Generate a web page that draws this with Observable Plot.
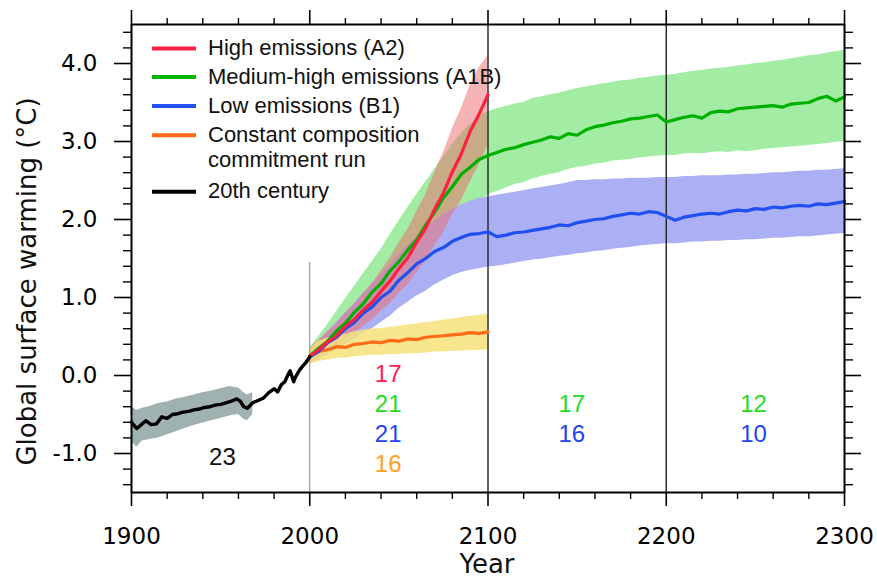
<!DOCTYPE html>
<html><head><meta charset="utf-8">
<script src="https://cdn.jsdelivr.net/npm/d3@7"></script>
<script src="https://cdn.jsdelivr.net/npm/@observablehq/plot@0.6"></script>
<style>
html,body{margin:0;padding:0;background:#fff;}
#wrap{position:relative;width:877px;height:580px;overflow:hidden;background:#fff;}
#overlay{position:absolute;left:0;top:0;pointer-events:none;}
</style></head><body><div id="wrap"></div>
<script>
// ---------- data ----------
const xMajorTicks = [1900, 2000, 2100, 2200, 2300];
const xMinorTicks = [1920,1940,1960,1980,2020,2040,2060,2080,2120,2140,2160,2180,2220,2240,2260,2280];
const yMajorTicks = [-1, 0, 1, 2, 3, 4];
const yMinorTicks = [-1.4,-1.2,-0.8,-0.6,-0.4,-0.2,0.2,0.4,0.6,0.8,1.2,1.4,1.6,1.8,2.2,2.4,2.6,2.8,3.2,3.4,3.6,3.8,4.2,4.4];

const histYears = [1900,1903,1906,1908,1911,1914,1917,1920,1923,1926,1929,1932,1935,1938,1941,1944,1947,1950,1953,1956,1959,1961,1963,1965,1968,1971,1974,1977,1980,1982,1984,1986,1988,1989,1991,1992,1994,1996,1998,2000];
const histMean = [-0.60,-0.68,-0.62,-0.58,-0.63,-0.62,-0.53,-0.55,-0.50,-0.49,-0.47,-0.46,-0.44,-0.43,-0.41,-0.40,-0.38,-0.37,-0.35,-0.33,-0.30,-0.33,-0.40,-0.42,-0.35,-0.32,-0.29,-0.22,-0.17,-0.21,-0.12,-0.08,0.02,0.06,-0.08,-0.02,0.06,0.12,0.17,0.24];
const histBandYears = [1900,1903,1906,1910,1915,1920,1925,1930,1935,1940,1945,1950,1955,1960,1963,1965,1968];
const histLow  = [-0.85,-0.92,-0.84,-0.82,-0.80,-0.76,-0.72,-0.68,-0.64,-0.61,-0.58,-0.55,-0.52,-0.50,-0.56,-0.58,-0.50];
const histHigh = [-0.40,-0.45,-0.42,-0.40,-0.36,-0.34,-0.30,-0.28,-0.25,-0.22,-0.20,-0.17,-0.14,-0.16,-0.22,-0.25,-0.22];

const projYears = [2000,2005,2010,2015,2020,2025,2030,2035,2040,2045,2050,2055,2060,2065,2070,2075,2080,2085,2090,2095,2100,
  2105,2110,2115,2120,2125,2130,2135,2140,2145,2150,2155,2160,2165,2170,2175,2180,2185,2190,2195,2200,
  2205,2210,2215,2220,2225,2230,2235,2240,2245,2250,2255,2260,2265,2270,2275,2280,2285,2290,2295,2300];

// Medium-high emissions (A1B)
const a1bMean = [0.25,0.35,0.44,0.57,0.67,0.81,0.92,1.07,1.18,1.34,1.46,1.61,1.74,1.93,2.09,2.28,2.42,2.58,2.67,2.77,2.82,
  2.86,2.90,2.92,2.96,2.99,3.02,3.06,3.04,3.10,3.08,3.15,3.19,3.21,3.24,3.26,3.29,3.30,3.32,3.34,3.25,
  3.28,3.31,3.33,3.30,3.37,3.39,3.38,3.42,3.43,3.44,3.45,3.46,3.44,3.48,3.49,3.50,3.55,3.58,3.52,3.57];
const a1bLow = [0.15,0.22,0.30,0.36,0.45,0.55,0.62,0.72,0.82,0.92,1.02,1.14,1.25,1.38,1.52,1.66,1.80,1.95,2.08,2.20,2.32,
  2.36,2.40,2.45,2.47,2.52,2.55,2.58,2.60,2.64,2.67,2.68,2.71,2.72,2.75,2.76,2.77,2.79,2.80,2.81,2.82,
  2.82,2.84,2.85,2.84,2.86,2.87,2.86,2.88,2.87,2.88,2.90,2.91,2.92,2.93,2.94,2.95,2.96,2.97,2.99,3.00];
const a1bHigh = [0.35,0.50,0.65,0.82,0.98,1.14,1.30,1.46,1.62,1.80,1.98,2.15,2.32,2.48,2.64,2.80,2.96,3.10,3.22,3.32,3.38,
  3.42,3.45,3.48,3.50,3.55,3.57,3.60,3.62,3.65,3.68,3.70,3.72,3.74,3.76,3.78,3.79,3.81,3.82,3.84,3.85,
  3.86,3.88,3.90,3.91,3.93,3.94,3.95,3.97,3.98,4.00,4.01,4.03,4.04,4.06,4.08,4.10,4.11,4.13,4.15,4.17];

// Low emissions (B1)
const b1Mean = [0.24,0.31,0.42,0.49,0.60,0.68,0.80,0.88,1.00,1.08,1.22,1.32,1.43,1.50,1.59,1.64,1.72,1.77,1.81,1.82,1.84,
  1.78,1.80,1.83,1.84,1.86,1.88,1.90,1.93,1.92,1.96,1.98,2.00,2.01,2.04,2.06,2.08,2.07,2.10,2.09,2.04,
  1.99,2.03,2.05,2.07,2.08,2.07,2.10,2.12,2.11,2.14,2.13,2.16,2.15,2.17,2.18,2.17,2.20,2.19,2.21,2.23];
const b1Low = [0.15,0.20,0.27,0.32,0.40,0.46,0.54,0.60,0.68,0.76,0.86,0.94,1.02,1.08,1.16,1.22,1.28,1.32,1.35,1.37,1.39,
  1.40,1.42,1.44,1.46,1.48,1.49,1.51,1.53,1.54,1.56,1.57,1.59,1.60,1.62,1.63,1.64,1.66,1.67,1.68,1.69,
  1.69,1.70,1.71,1.71,1.72,1.72,1.73,1.73,1.74,1.74,1.75,1.76,1.76,1.77,1.78,1.78,1.79,1.80,1.81,1.82];
const b1High = [0.33,0.44,0.56,0.68,0.80,0.92,1.05,1.17,1.30,1.42,1.55,1.67,1.78,1.88,1.98,2.06,2.13,2.19,2.23,2.27,2.29,
  2.31,2.33,2.35,2.37,2.39,2.41,2.43,2.45,2.47,2.50,2.50,2.51,2.51,2.52,2.52,2.53,2.53,2.53,2.54,2.54,
  2.54,2.55,2.55,2.56,2.56,2.56,2.57,2.57,2.58,2.58,2.59,2.60,2.60,2.61,2.62,2.62,2.63,2.63,2.64,2.65];

// High emissions (A2), 2000-2100
const a2Mean = [0.25,0.33,0.43,0.51,0.63,0.72,0.84,0.94,1.08,1.21,1.37,1.51,1.71,1.89,2.13,2.34,2.61,2.84,3.13,3.35,3.60];
const a2Low  = [0.15,0.22,0.30,0.37,0.46,0.54,0.63,0.71,0.82,0.92,1.05,1.16,1.32,1.46,1.66,1.83,2.06,2.24,2.48,2.70,2.95];
const a2High = [0.35,0.45,0.56,0.66,0.80,0.91,1.05,1.18,1.34,1.50,1.70,1.87,2.10,2.32,2.60,2.86,3.16,3.42,3.72,3.95,4.10];

// Constant composition commitment run, 2000-2100
const commitMean = [0.24,0.31,0.33,0.37,0.36,0.40,0.41,0.43,0.42,0.45,0.44,0.47,0.46,0.49,0.50,0.51,0.52,0.53,0.55,0.54,0.56];
const commitLow  = [0.14,0.18,0.20,0.22,0.22,0.24,0.25,0.26,0.26,0.27,0.27,0.28,0.28,0.29,0.30,0.30,0.31,0.31,0.32,0.32,0.33];
const commitHigh = [0.34,0.44,0.48,0.52,0.53,0.56,0.58,0.60,0.60,0.62,0.63,0.65,0.66,0.68,0.69,0.71,0.72,0.74,0.76,0.77,0.79];

// model counts
const annLabels = ["17","21","21","16","23","17","16","12","10"];
const annYears  = [2044,2044,2044,2044,1951,2147,2147,2249,2249];
const annValues = [0.02,-0.37,-0.76,-1.14,-1.05,-0.37,-0.76,-0.37,-0.76];
const annColors = ["#ff2050","#22dd22","#2244ee","#ffa020","#111111","#22dd22","#2244ee","#22dd22","#2244ee"];

const legendLabels = [["High emissions (A2)"],["Medium-high emissions (A1B)"],["Low emissions (B1)"],["Constant composition","commitment run"],["20th century"]];
const legendColors = ["#ff1f45","#00b400","#2050f0","#ff6a14","#000000"];

// ---------- tables ----------
const hist = histYears.map((x,i)=>({x, y:histMean[i]}));
const histBand = histBandYears.map((x,i)=>({x, lo:histLow[i], hi:histHigh[i]}));
const proj = projYears.map((x,i)=>({x, a1b:a1bMean[i], a1bLo:a1bLow[i], a1bHi:a1bHigh[i], b1:b1Mean[i], b1Lo:b1Low[i], b1Hi:b1High[i]}));
const p21 = projYears.slice(0,21);
const a2 = p21.map((x,i)=>({x, y:a2Mean[i], lo:a2Low[i], hi:a2High[i]}));
const commit = p21.map((x,i)=>({x, y:commitMean[i], lo:commitLow[i], hi:commitHigh[i]}));
const ann = annLabels.map((t,i)=>({t, x:annYears[i], y:annValues[i], c:annColors[i]}));

const tickFont = "'DejaVu Sans', sans-serif";
const blank = () => "";

const chart = Plot.plot({
  width: 877, height: 580,
  marginLeft: 131, marginRight: 33, marginTop: 24, marginBottom: 88,
  x: {domain: [1900, 2300]},
  y: {domain: [-1.5, 4.5]},
  color: {type: "identity"},
  style: {background: "white", fontFamily: tickFont, overflow: "visible"},
  marks: [
    Plot.areaY(proj, {x: "x", y1: "a1bLo", y2: "a1bHi", fill: "#a3eca3"}),
    Plot.areaY(proj, {x: "x", y1: "b1Lo", y2: "b1Hi", fill: "#aab0f3"}),
    Plot.areaY(a2, {x: "x", y1: "lo", y2: "hi", fill: "#ee6a6a", fillOpacity: 0.5}),
    Plot.areaY(commit, {x: "x", y1: "lo", y2: "hi", fill: "#f7e27a", fillOpacity: 0.85}),
    Plot.areaY(histBand, {x: "x", y1: "lo", y2: "hi", fill: "#9fb1b0"}),
    Plot.ruleX([2000], {y1: -1.5, y2: 1.45, stroke: "#888", strokeWidth: 1}),
    Plot.ruleX([2100, 2200], {stroke: "#222", strokeWidth: 1.4}),
    Plot.lineY(commit, {x: "x", y: "y", stroke: "#ff6a14", strokeWidth: 3.2}),
    Plot.lineY(proj, {x: "x", y: "b1", stroke: "#1f4ff0", strokeWidth: 3.2}),
    Plot.lineY(proj, {x: "x", y: "a1b", stroke: "#00b000", strokeWidth: 3.2}),
    Plot.lineY(a2, {x: "x", y: "y", stroke: "#ff1f40", strokeWidth: 3.2}),
    Plot.lineY(hist, {x: "x", y: "y", stroke: "#000", strokeWidth: 3.4}),
    Plot.text(ann, {x: "x", y: "y", text: "t", fill: "c", fontSize: 24, fontFamily: "'Liberation Sans', Arial, sans-serif", textAnchor: "middle"}),
    Plot.axisY({anchor: "left", ticks: yMajorTicks, tickSize: 17, tickPadding: 17, fontSize: 23, tickFormat: d => d.toFixed(1), label: null, strokeWidth: 1.6}),
    Plot.axisY({anchor: "left", ticks: yMinorTicks, tickSize: 8, tickFormat: blank, label: null, strokeWidth: 1.4}),
    Plot.axisY({anchor: "right", ticks: yMajorTicks, tickSize: 16, tickFormat: blank, label: null, strokeWidth: 1.6}),
    Plot.axisY({anchor: "right", ticks: yMinorTicks, tickSize: 8, tickFormat: blank, label: null, strokeWidth: 1.4}),
    Plot.axisX({anchor: "bottom", ticks: xMajorTicks, tickSize: 14, tickPadding: 21, fontSize: 23, tickFormat: d => String(d), label: null, strokeWidth: 1.6}),
    Plot.axisX({anchor: "bottom", ticks: xMinorTicks, tickSize: 7, tickFormat: blank, label: null, strokeWidth: 1.4}),
    Plot.axisX({anchor: "top", ticks: xMajorTicks, tickSize: 15, tickFormat: blank, label: null, strokeWidth: 1.6}),
    Plot.axisX({anchor: "top", ticks: xMinorTicks, tickSize: 7, tickFormat: blank, label: null, strokeWidth: 1.4}),
    Plot.frame({stroke: "#000", strokeWidth: 2})
  ]
});

const wrap = document.getElementById("wrap");
wrap.appendChild(chart);

// overlay: legend and axis titles
const ns = "http://www.w3.org/2000/svg";
const ov = document.createElementNS(ns, "svg");
ov.setAttribute("id", "overlay");
ov.setAttribute("width", 877);
ov.setAttribute("height", 580);
function el(tag, attrs, text) {
  const e = document.createElementNS(ns, tag);
  for (const k in attrs) e.setAttribute(k, attrs[k]);
  if (text != null) e.textContent = text;
  ov.appendChild(e);
  return e;
}
const rowBase = [55, 83.5, 112.5, 141.8, 198.3];
legendLabels.forEach((lines, i) => {
  const b = rowBase[i];
  el("line", {x1: 152, x2: 196, y1: b - 6.5, y2: b - 6.5, stroke: legendColors[i], "stroke-width": 4});
  lines.forEach((t, j) => {
    el("text", {x: 208, y: b + j * 25, "font-family": "'Liberation Sans', Arial, sans-serif", "font-size": 22, fill: "#111"}, t);
  });
});
el("text", {transform: "translate(36,281.5) rotate(-90)", "text-anchor": "middle", "font-family": tickFont, "font-size": 26, fill: "#111"}, "Global surface warming (°C)");
el("text", {x: 487, y: 573, "text-anchor": "middle", "font-family": tickFont, "font-size": 26, fill: "#111"}, "Year");
wrap.appendChild(ov);
</script>
</body></html>
